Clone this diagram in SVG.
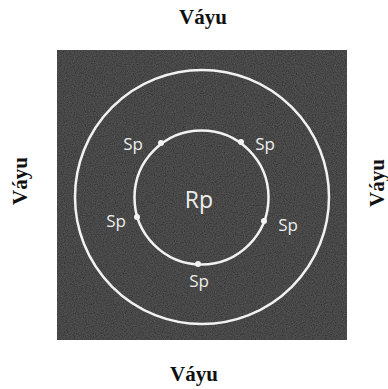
<svg xmlns="http://www.w3.org/2000/svg" width="388" height="389" viewBox="0 0 388 389">
  <style>
    .vayu { font-family: "Liberation Serif", "DejaVu Serif", serif; font-weight: bold; font-size: 21px; fill: #111; text-anchor: middle; }
    .sp { font-family: "Open Sans", "DejaVu Sans", sans-serif; font-size: 17px; fill: #eeeeee; text-anchor: middle; }
    .rp { font-family: "Open Sans", "DejaVu Sans", sans-serif; font-size: 23px; fill: #eeeeee; text-anchor: middle; }
    .ring { fill: none; stroke: #f2f2f2; stroke-width: 2.5; }
    .dot { fill: #f2f2f2; }
  </style>
  <defs>
    <filter id="grain" x="0" y="0" width="100%" height="100%">
      <feTurbulence type="fractalNoise" baseFrequency="0.9" numOctaves="2" seed="3" result="n"/>
      <feColorMatrix in="n" type="matrix" values="0 0 0 0 0.4  0 0 0 0 0.4  0 0 0 0 0.4  0 0 0 0.22 0" result="g"/>
      <feComposite in="g" in2="SourceGraphic" operator="in" result="gc"/>
      <feMerge><feMergeNode in="SourceGraphic"/><feMergeNode in="gc"/></feMerge>
    </filter>
  </defs>
  <rect width="388" height="389" fill="#ffffff"/>
  <g id="field">
    <rect x="57" y="50" width="290" height="290" fill="#2c2c2c" filter="url(#grain)"/>
  </g>
  <g id="labels-vayu">
    <text class="vayu" x="203" y="24">Váyu</text>
    <text class="vayu" x="194" y="381">Váyu</text>
    <text class="vayu" transform="translate(27,181) rotate(-90)">Váyu</text>
    <text class="vayu" transform="translate(384,183) rotate(-90)">Váyu</text>
  </g>
  <g id="connectors">
    <circle class="ring" cx="202" cy="197" r="127"/>
    <circle class="ring" cx="201.5" cy="197.5" r="67"/>
  </g>
  <g id="node-rp">
    <text class="rp" x="199" y="208">Rp</text>
  </g>
  <g id="node-sp1"><circle class="dot" cx="161" cy="143" r="3"/><text class="sp" x="133" y="150">Sp</text></g>
  <g id="node-sp2"><circle class="dot" cx="241" cy="142" r="3"/><text class="sp" x="265" y="150">Sp</text></g>
  <g id="node-sp3"><circle class="dot" cx="137" cy="217" r="3"/><text class="sp" x="116" y="227">Sp</text></g>
  <g id="node-sp4"><circle class="dot" cx="264" cy="221" r="3"/><text class="sp" x="288" y="231">Sp</text></g>
  <g id="node-sp5"><circle class="dot" cx="198" cy="264" r="3"/><text class="sp" x="199" y="287">Sp</text></g>
</svg>
